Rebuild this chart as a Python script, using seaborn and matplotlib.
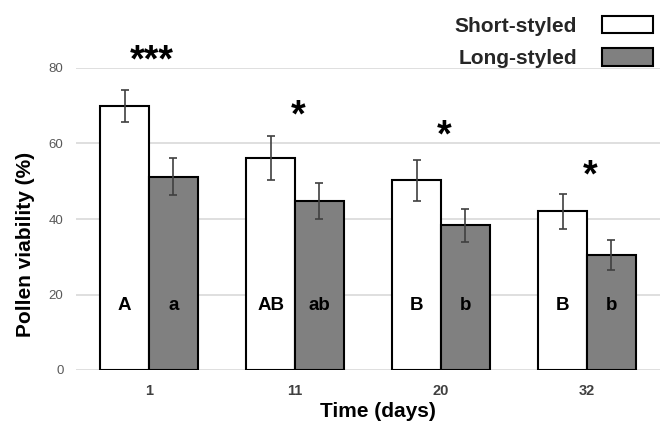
import matplotlib
matplotlib.use('Agg')
import matplotlib.pyplot as plt
import seaborn as sns
import pandas as pd
import numpy as np

# ---- data ----
days = ['1', '11', '20', '32']
short_mean = [70.0, 56.2, 50.3, 42.0]
short_err = [4.3, 5.8, 5.4, 4.75]
long_mean = [51.2, 44.8, 38.3, 30.5]
long_err = [4.9, 4.8, 4.4, 4.0]
short_letters = ['A', 'AB', 'B', 'B']
long_letters = ['a', 'ab', 'b', 'b']
signif = ['***', '*', '*', '*']
signif_y = [79.2, 64.6, 59.1, 48.7]
groups = ['Short-styled', 'Long-styled']
yticks = [0, 20, 40, 60, 80]

df = pd.DataFrame({
    'day': days * 2,
    'group': [groups[0]] * 4 + [groups[1]] * 4,
    'val': short_mean + long_mean,
})

sns.set_theme(style='white')
plt.rcParams['font.family'] = ['Liberation Sans', 'DejaVu Sans']

fig = plt.figure(figsize=(6.66, 4.25), dpi=100)
ax = fig.add_axes([76 / 666, 1 - 370 / 425, 584 / 666, 302 / 425])

sns.barplot(data=df, x='day', y='val', hue='group', order=days, hue_order=groups,
            palette={groups[0]: 'white', groups[1]: '#808080'},
            edgecolor='black', linewidth=1.5, width=0.665, gap=0,
            errorbar=None, ax=ax)

bar_conts = list(ax.containers)[:2]
errs = [short_err, long_err]
means = [short_mean, long_mean]
letters = [short_letters, long_letters]
for k, cont in enumerate(bar_conts):
    xs = [p.get_x() + p.get_width() / 2 for p in cont.patches]
    ax.errorbar(xs, means[k], yerr=errs[k], fmt='none', ecolor='#404040',
                elinewidth=1.2, capsize=3, capthick=1.2, zorder=5)
    for x, lab in zip(xs, letters[k]):
        ax.text(x, 16.0, lab, ha='center', va='baseline', fontsize=13.5,
                fontweight='bold', color='black', zorder=6)

for i, (s, y) in enumerate(zip(signif, signif_y)):
    ax.text(i + 0.02, y, s, ha='center', va='baseline', fontsize=27,
            fontweight='bold', color='black', clip_on=False)

ax.set_xlim(-0.5, 3.5)
ax.set_ylim(0, 80)
ax.set_yticks(yticks)
ax.set_yticklabels([str(t) for t in yticks])
ax.grid(axis='y', color='#d9d9d9', linewidth=1.2)
ax.set_axisbelow(True)
for sp in ax.spines.values():
    sp.set_visible(False)

ax.tick_params(axis='y', length=0, pad=9, labelsize=9.5, labelcolor='#595959')
ax.tick_params(axis='x', length=0, pad=10, labelsize=10.5, labelcolor='#404040')
for t in ax.get_xticklabels():
    t.set_fontweight('bold')

ax.set_xlabel('Time (days)', fontsize=15, fontweight='bold', color='black',
              va='baseline')
ax.set_ylabel('Pollen viability (%)', fontsize=15, fontweight='bold', color='black',
              va='center')
ax.xaxis.set_label_coords(0.517, -0.157)
ax.yaxis.set_label_coords(-0.087, 0.415)

handles, labels = ax.get_legend_handles_labels()
ax.legend(handles, labels, loc='upper right', bbox_to_anchor=(653 / 666, 1 - 16 / 425),
          bbox_transform=fig.transFigure, frameon=False, markerfirst=False,
          prop={'family': 'Liberation Sans', 'weight': 'bold', 'size': 15},
          handlelength=2.45, handleheight=0.9, handletextpad=1.2,
          labelspacing=0.6, borderpad=0, borderaxespad=0)

fig.savefig('out.png', dpi=100)
